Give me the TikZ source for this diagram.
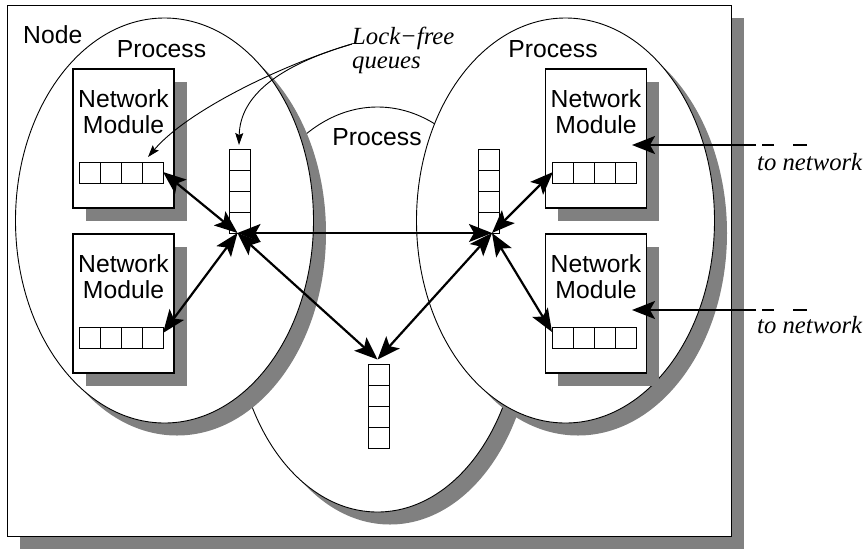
\documentclass[tikz,border=0pt]{standalone}
\usepackage{fontspec}
\setmainfont{Liberation Serif}
\setsansfont{Liberation Sans}
\usetikzlibrary{arrows.meta,shapes.geometric,calc}
\begin{document}
\begin{tikzpicture}[x=1pt,y=-1pt,
  shade/.style={fill=gray,draw=none},
  framebox/.style={rectangle,draw,fill=white,line width=1.2pt,minimum width=724pt,minimum height=531pt,inner sep=0pt,outer sep=0pt,anchor=north west},
  proc/.style={ellipse,draw,fill=white,line width=0.9pt,inner sep=0pt,outer sep=0pt,minimum height=405pt},
  nmbox/.style={rectangle,draw,fill=white,line width=1.2pt,minimum width=101pt,minimum height=139pt,inner sep=0pt,outer sep=0pt},
  nmtext/.style={font=\sffamily\fontsize{24.7}{26}\selectfont,align=center,inner sep=0pt,outer sep=0pt,anchor=north},
  qh/.style={rectangle,draw,fill=white,line width=1pt,minimum width=84pt,minimum height=21pt,inner sep=0pt,outer sep=0pt},
  qv/.style={rectangle,draw,fill=white,line width=1pt,minimum width=21pt,minimum height=84pt,inner sep=0pt,outer sep=0pt},
  cell/.style={line width=1pt},
  sans/.style={font=\sffamily\fontsize{24.7}{26}\selectfont,inner sep=0pt,anchor=base},
  ital/.style={font=\itshape\fontsize{24.7}{24}\selectfont,inner sep=0pt},
  bigtip/.tip={Stealth[length=23pt,width=18pt,inset=5pt]},
  link/.style={line width=2.2pt,bigtip-bigtip},
  netlink/.style={line width=2.2pt,-bigtip},
  netdash/.style={line width=2.2pt,dash pattern=on 14pt off 19pt on 12pt off 20pt},
  note/.style={line width=0.9pt,-{Stealth[length=12pt,width=8pt,inset=2pt]}}
]
\useasboundingbox (0,0) rectangle (868,550);

% frame
\node[framebox,shade] (frameS) at (20,18) {};
\node[framebox] (frame) at (7.5,5.5) {};
\node[sans,anchor=base west] (nodelbl) at (23,43) {Node};

% processes
\node[proc,shade,minimum width=286pt] (PMs) at (390,322) {};
\node[proc,minimum width=286pt] (PM) at (377.5,309.5) {};
\node[proc,shade,minimum width=298pt] (PLs) at (177,233) {};
\node[proc,minimum width=298pt] (PL) at (164.5,220.5) {};
\node[proc,shade,minimum width=298pt] (PRs) at (578,233) {};
\node[proc,minimum width=298pt] (PR) at (565.5,220.5) {};

\node[sans] (plL) at (161.5,57) {Process};
\node[sans] (plR) at (553,57) {Process};
\node[sans] (plM) at (377,145) {Process};

% network modules
\foreach \n/\cx/\cy in {NM1/123.5/138.5, NM2/123.5/303.5, NM3/596/138.5, NM4/596/303.5}{
  \node[nmbox,shade] (\n s) at (\cx+12.5,\cy+12.5) {};
  \node[nmbox,label={[nmtext,yshift=-21pt]north:{Network\\Module}}] (\n) at (\cx,\cy) {};
}

% queues
\foreach \q/\cx/\cy in {Q1/121/172.5, Q2/121/337.5, Q3/594/172.5, Q4/594/337.5}{
  \node[qh] (\q) at (\cx,\cy) {};
  \foreach \i in {1,2,3} \draw[cell] ($(\q.north west)+(21*\i,0)$) -- ++(0,21);
}
\foreach \q/\cx/\cy in {QL/239.5/191.5, QR/488.5/191.5, QM/378.5/406.5}{
  \node[qv] (\q) at (\cx,\cy) {};
  \foreach \i in {1,2,3} \draw[cell] ($(\q.north west)+(0,21*\i)$) -- ++(21,0);
}

% meeting points
\coordinate (cL) at (237.5,233);
\coordinate (cR) at (492,233);
\coordinate (cM) at (377.5,359.5);
\coordinate (e1) at ($(Q1.east)+(0,-0.5)$);
\coordinate (e2) at ($(Q2.east)+(0,-4.5)$);
\coordinate (e3) at ($(Q3.west)+(1,-0.5)$);
\coordinate (e4) at ($(Q4.west)+(0,-5.5)$);

\draw[link] (e1) -- (cL);
\draw[link] (e2) -- (cL);
\draw[link] (cL) -- (cR);
\draw[link] (cL) -- (cM);
\draw[link] (cR) -- (cM);
\draw[link] (e3) -- (cR);
\draw[link] (e4) -- (cR);

% to network
\coordinate (n1a) at (807,145);
\coordinate (n1b) at (756,145);
\coordinate (n1t) at (632,145);
\coordinate (n2a) at (807,310);
\coordinate (n2b) at (756,310);
\coordinate (n2t) at (632,310);
\draw[netdash] (n1a) -- (n1b);
\draw[netlink] (n1b) -- (n1t);
\draw[netdash] (n2a) -- (n2b);
\draw[netlink] (n2b) -- (n2t);
\node[ital,anchor=base west] (tn1) at (757,170) {to network};
\node[ital,anchor=base west] (tn2) at (757,333.5) {to network};

% lock-free queues
\node[ital,align=left,anchor=north west] (lf) at (352,26.5) {Lock−free\\queues};
\coordinate (lfs) at (352,44);
\coordinate (lq1) at (148,157);
\coordinate (lq2) at (239,145);
\draw[note] (lfs) .. controls (290,62) and (190,108) .. (lq1);
\draw[note] (lfs) .. controls (280,65) and (240,95) .. (lq2);
\end{tikzpicture}
\end{document}
